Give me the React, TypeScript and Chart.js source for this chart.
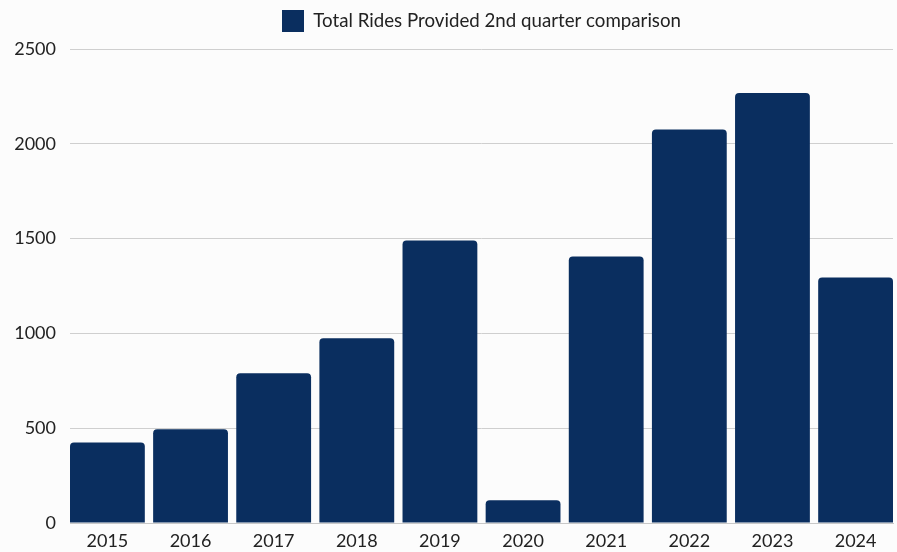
import React, { useEffect, useRef } from "react";
import { Chart, registerables } from "chart.js";

Chart.register(...registerables);

const categories = ["2015", "2016", "2017", "2018", "2019", "2020", "2021", "2022", "2023", "2024"];
const rides = [425, 495, 790, 975, 1490, 120, 1405, 2075, 2268, 1295];
const seriesLabel = "Total Rides Provided 2nd quarter comparison";

const BAR = "#0a2e5f";
const FONT = "Lato, 'Noto Sans', sans-serif";

const legendMargin = {
  id: "legendMargin",
  beforeInit(chart: any) {
    const orig = chart.legend.fit;
    chart.legend.fit = function () {
      orig.bind(this)();
      this.height += 7;
    };
  },
};

export default function App() {
  const ref = useRef<HTMLCanvasElement | null>(null);
  useEffect(() => {
    document.body.style.margin = "0";
    document.body.style.background = "#fcfcfc";
    const chart = new Chart(ref.current!, {
      type: "bar",
      plugins: [legendMargin],
      data: {
        datasets: [
          {
            label: seriesLabel,
            data: rides.map((v, i) => ({ x: i, y: v })),
            backgroundColor: BAR,
            borderColor: BAR,
            borderWidth: 0,
            borderRadius: 4,
            borderSkipped: "bottom",
            categoryPercentage: 1,
            barPercentage: 0.9,
          },
        ],
      },
      options: {
        animation: false,
        responsive: false,
        maintainAspectRatio: false,
        layout: { padding: { left: 12, right: 4, top: 0, bottom: 0 } },
        plugins: {
          legend: {
            display: true,
            fullSize: false,
            labels: {
              boxWidth: 22,
              boxHeight: 22,
              color: "#222",
              font: { family: FONT, size: 18.7 },
              padding: 10,
            },
          },
          tooltip: { enabled: false },
        },
        scales: {
          x: {
            type: "linear",
            min: -0.45,
            max: categories.length - 0.55,
            offset: false,
            grid: { display: false, drawTicks: false },
            border: { display: true, color: "#c8c8c8" },
            ticks: {
              color: "#222",
              font: { family: FONT, size: 18 },
              padding: 7,
              maxRotation: 0,
              autoSkip: false,
              callback: (v: any) => categories[v as number] ?? "",
            },
            afterBuildTicks: (s: any) => {
              s.ticks = categories.map((_, i) => ({ value: i }));
            },
            afterFit: (s: any) => {
              s.height = 29;
            },
          },
          y: {
            min: 0,
            max: 2500,
            grid: { color: "#cfcfcf", drawTicks: false },
            border: { display: false },
            ticks: {
              stepSize: 500,
              color: "#222",
              font: { family: FONT, size: 18 },
              padding: 14,
              callback: (v: any) => String(v),
            },
            afterFit: (s: any) => {
              s.width = 58;
            },
          },
        },
      },
    });
    return () => chart.destroy();
  }, []);
  return (
    <div style={{ width: 897, height: 552, background: "#fcfcfc" }}>
      <canvas ref={ref} width={897} height={552} style={{ display: "block" }} />
    </div>
  );
}
